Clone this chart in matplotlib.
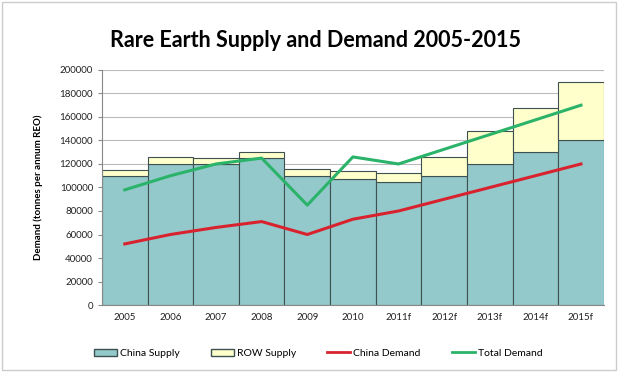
import matplotlib.pyplot as plt
from matplotlib.patches import Patch
from matplotlib.lines import Line2D

plt.rcParams['font.family'] = ['Lato', 'DejaVu Sans']

years = ['2005', '2006', '2007', '2008', '2009', '2010', '2011f', '2012f', '2013f', '2014f', '2015f']
china_supply = [110000, 120000, 120000, 125000, 110000, 107500, 105000, 110000, 120000, 130000, 140000]
row_supply = [5000, 6000, 5000, 5000, 6000, 6500, 7500, 16000, 28000, 38000, 50000]
china_demand = [52000, 60000, 66000, 71000, 60000, 73000, 80000, 90000, 100000, 110000, 120000]
total_demand = [98000, 110000, 120000, 125000, 85000, 126000, 120000, 132500, 145000, 157500, 170000]

fig = plt.figure(figsize=(6.18, 3.72), dpi=100)
ax = fig.add_axes([0.165, 0.18, 0.812, 0.632])

x = range(len(years))
ax.bar(x, china_supply, width=1.0, color='#93C9CB', edgecolor='#3f5050', linewidth=0.8, zorder=2)
ax.bar(x, row_supply, width=1.0, bottom=china_supply, color='#FFFFCC', edgecolor='#3f5050', linewidth=0.8, zorder=2)
ax.plot(x, china_demand, color='#D8232F', linewidth=2.2, zorder=3)
ax.plot(x, total_demand, color='#2BB36A', linewidth=2.2, zorder=3)

ax.set_xlim(-0.5, len(years) - 0.5)
ax.set_ylim(0, 200000)
ax.set_yticks(range(0, 200001, 20000))
ax.set_xticks(list(x))
ax.set_xticklabels(years)
ax.tick_params(axis='both', labelsize=7, colors='#222222', length=3, color='#888888')
ax.tick_params(axis='x', length=0, pad=6)
ax.grid(axis='y', color='#bbbbbb', linewidth=0.8, zorder=0)
for s in ['top', 'right']:
    ax.spines[s].set_visible(False)
ax.spines['left'].set_color('#888888')
ax.spines['bottom'].set_color('#888888')

ax.set_ylabel('Demand (tonnes per annum REO)', fontsize=7, fontweight='bold', labelpad=12)
fig.text(0.51, 0.892, 'Rare Earth Supply and Demand 2005-2015', ha='center', va='center',
         fontsize=15.5, fontweight='bold')

handles = [Patch(facecolor='#93C9CB', edgecolor='#3f5050', label='China Supply'),
           Patch(facecolor='#FFFFCC', edgecolor='#3f5050', label='ROW Supply'),
           Line2D([], [], color='#D8232F', linewidth=2, label='China Demand'),
           Line2D([], [], color='#2BB36A', linewidth=2, label='Total Demand')]
fig.legend(handles=handles, loc='center', bbox_to_anchor=(0.515, 0.05), ncol=4, frameon=False,
           fontsize=7.5, handlelength=2.2, handletextpad=0.3, columnspacing=3)

fig.patches.append(plt.Rectangle((0.003, 0.005), 0.994, 0.99, transform=fig.transFigure,
                                 fill=False, edgecolor='#cccccc', linewidth=1))
plt.savefig('out.png')
